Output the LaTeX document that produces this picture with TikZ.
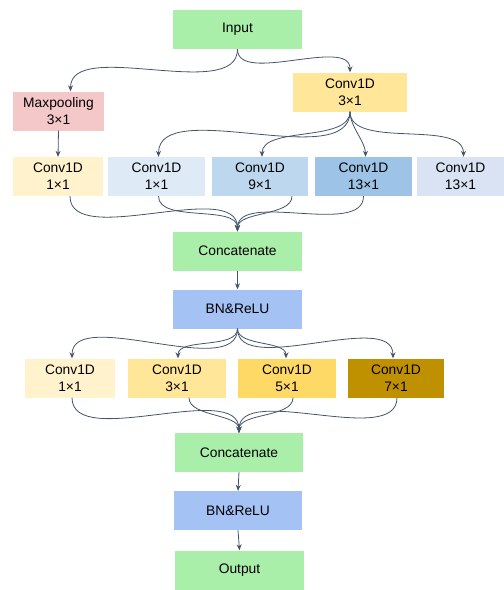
\documentclass[tikz,border=0pt]{standalone}
\usepackage{fontspec}
\setmainfont{Liberation Sans}
\usetikzlibrary{arrows.meta}
\definecolor{ingreen}{HTML}{A9EFA9}
\definecolor{poolpink}{HTML}{F4C7C8}
\definecolor{yelA}{HTML}{FFF2CC}
\definecolor{yelB}{HTML}{FFE699}
\definecolor{yelC}{HTML}{FFD966}
\definecolor{yelD}{HTML}{BF9000}
\definecolor{bluA}{HTML}{DEEBF7}
\definecolor{bluB}{HTML}{BDD7EE}
\definecolor{bluC}{HTML}{9DC3E6}
\definecolor{bluD}{HTML}{DAE3F3}
\definecolor{bnblue}{HTML}{A4C2F4}
\definecolor{linecol}{HTML}{44546A}
\tikzset{
  box/.style={inner sep=0pt, align=center, minimum height=39pt,
    font=\fontsize{13.8}{17}\selectfont},
  conn/.style={linecol, line width=0.8pt, -{Stealth[length=6pt,width=5pt]}},
  curvy/.style={out=-90, in=90, looseness=0.8}
}

\begin{document}
\begin{tikzpicture}[x=1pt,y=-1pt]
				\useasboundingbox (0,0) rectangle (504,590);
				% nodes
				\node[box, fill=ingreen, minimum width=129pt] (input) at (237.5,29.5) {Input};
				\node[box, fill=poolpink, minimum width=91pt] (pool) at (58.5,111) {Maxpooling\\3×1};
				\node[box, fill=yelB, minimum width=114pt] (cthree) at (350,92) {Conv1D\\3×1};
				% second row
				\node[box, fill=yelA, minimum width=90pt] (ra) at (58,176.5) {Conv1D\\1×1};
				\node[box, fill=bluA, minimum width=97pt] (rb) at (156.5,176.5) {Conv1D\\1×1};
				\node[box, fill=bluB, minimum width=96pt] (rc) at (260,176.5) {Conv1D\\9×1};
				\node[box, fill=bluC, minimum width=97pt] (rd) at (363.5,176.5) {Conv1D\\13×1};
				\node[box, fill=bluD, minimum width=87pt] (re) at (460.5,176.5) {Conv1D\\13×1};
				\node[box, fill=ingreen, minimum width=129pt] (catA) at (237.5,251) {Concatenate};
				\node[box, fill=bnblue, minimum width=129pt] (bnA) at (237.5,309) {BN\&ReLU};
				% third row
				\node[box, fill=yelA, minimum width=90pt] (sa) at (70,378) {Conv1D\\1×1};
				\node[box, fill=yelB, minimum width=98pt] (sb) at (177,378) {Conv1D\\3×1};
				\node[box, fill=yelC, minimum width=98pt] (sc) at (287,378) {Conv1D\\5×1};
				\node[box, fill=yelD, minimum width=96pt] (sd) at (396,378) {Conv1D\\7×1};
				\node[box, fill=ingreen, minimum width=128pt] (catB) at (239,452.5) {Concatenate};
				\node[box, fill=bnblue, minimum width=128pt] (bnB) at (238,510.5) {BN\&ReLU};
				\node[box, fill=ingreen, minimum width=129pt] (output) at (239.5,570) {Output};
				% connectors
				\draw[conn] (input.south) to[curvy] ([xshift=12pt]pool.north);
				\draw[conn] (input.south) to[curvy] (cthree.north);
				\draw[conn] (pool.south) -- (ra.north);
				\foreach \t/\s in {rb/2, rc/2, rd/2, re/3}
				  \draw[conn] (cthree.south) to[curvy] ([xshift=\s pt]\t.north);
				\foreach \t/\s in {ra/12, rb/2, rc/32, rd/0}
				  \draw[conn] ([xshift=\s pt]\t.south) to[curvy] (catA.north);
				\draw[conn] (catA.south) -- (bnA.north);
				\foreach \t/\s in {sa/2, sb/1, sc/-1, sd/-3}
				  \draw[conn] (bnA.south) to[curvy] ([xshift=\s pt]\t.north);
				\foreach \t/\s in {sa/2, sb/12, sc/6, sd/1}
				  \draw[conn] ([xshift=\s pt]\t.south) to[curvy] (catB.north);
				\draw[conn] (catB.south) -- (bnB.north);
				\draw[conn] (bnB.south) -- (output.north);
			\end{tikzpicture}
\end{document}
